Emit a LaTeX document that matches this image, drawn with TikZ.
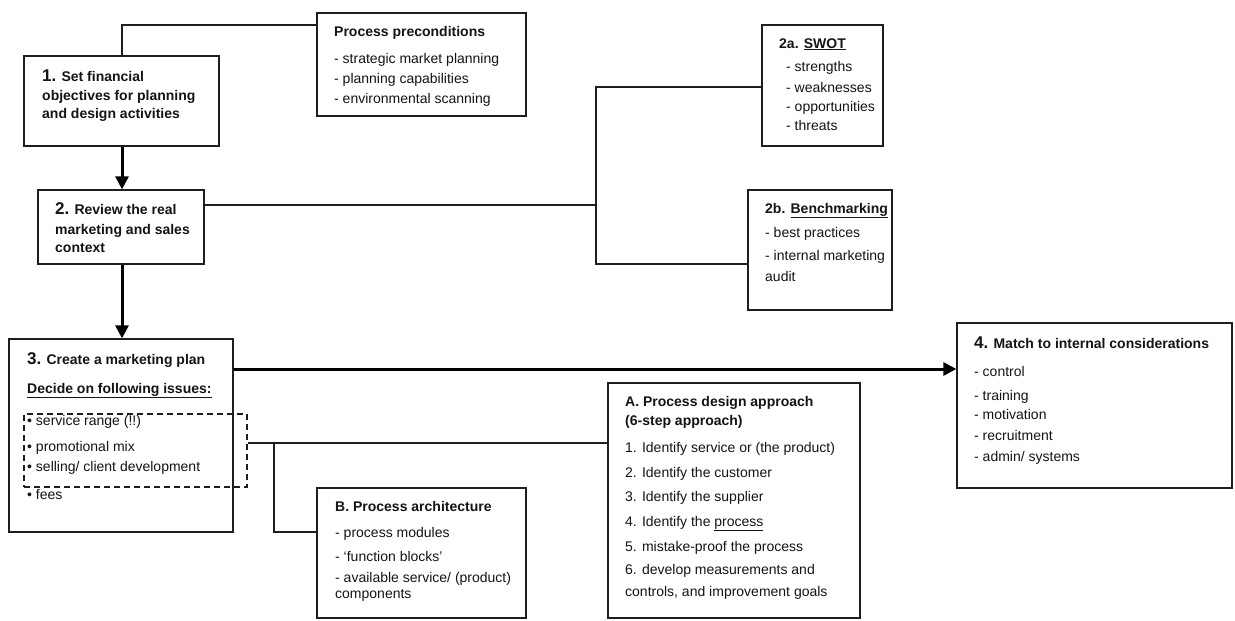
\documentclass[tikz,border=0pt]{standalone}
\usepackage{fontspec}
\setmainfont{Liberation Sans}
\usetikzlibrary{arrows.meta,fit}

\tikzset{
  box/.style={draw=black!88, line width=1.3pt, inner sep=0pt, fill=none},
  dashbox/.style={draw=black!88, line width=1.2pt, dash pattern=on 6pt off 4pt, inner sep=0pt},
  conn/.style={draw=black!88, line width=1.3pt},
  flow/.style={draw=black, line width=3pt, -{Triangle[length=13pt,width=13pt]}},
  txt/.style={anchor=base west, inner sep=0pt, text=black!92, font=\fontsize{14}{16}\selectfont},
  ttl/.style={txt, font=\fontsize{14}{16}\selectfont\bfseries},
}
\newcommand{\bignum}[1]{{\fontsize{17}{18}\selectfont #1}}

\begin{document}
\begin{tikzpicture}[x=1pt,y=-1pt]
  \useasboundingbox[fill=white] (0,0) rectangle (1235,621);

  % ---- boxes ----
  \node[box, fit={(24,56) (219,146)}]   (b1)    {};
  \node[box, fit={(317,13) (526,116)}]  (pre)   {};
  \node[box, fit={(38,190) (204,264)}]  (b2)    {};
  \node[box, fit={(762,25) (883,146)}]  (swot)  {};
  \node[box, fit={(748,190) (892,310)}] (bench) {};
  \node[box, fit={(9,339) (233,532)}]   (b3)    {};
  \node[dashbox, fit={(24,414) (247,487)}] (issues) {};
  \node[box, fit={(957,323) (1232,488)}] (b4)   {};
  \node[box, fit={(608,383) (860,618)}] (pa)    {};
  \node[box, fit={(317,488) (526,618)}] (pb)    {};

  % ---- junction points ----
  \coordinate (c1) at (122,25);
  \coordinate (j)  at (596,205);
  \coordinate (jt) at (596,87);
  \coordinate (jb) at (596,264);
  \coordinate (ya) at (0,369);
  \coordinate (k)  at (274,443);
  \coordinate (kb) at (274,532);

  % ---- connectors ----
  \draw[conn] (b1.north -| c1) -- (c1) -- (c1 -| pre.west);
  \draw[flow] (b1.south -| c1) -- (b2.north -| c1);
  \draw[flow] (b2.south -| c1) -- (b3.north -| c1);
  \draw[conn] (b2.east |- j) -- (j);
  \draw[conn] (swot.west |- jt) -- (jt) -- (jb) -- (bench.west |- jb);
  \draw[flow] (b3.east |- ya) -- (b4.west |- ya);
  \draw[conn] (issues.east |- k) -- (pa.west |- k);
  \draw[conn] (k) -- (kb) -- (pb.west |- kb);

  % ---- box 1 ----
  \node[ttl] (t1a) at (42,81)  {\bignum{1.} Set financial};
  \node[ttl] (t1b) at (42,100) {objectives for planning};
  \node[ttl] (t1c) at (42,118) {and design activities};

  % ---- preconditions ----
  \node[ttl] (tpa) at (334,36)  {Process preconditions};
  \node[txt] (tpb) at (334,63)  {- strategic market planning};
  \node[txt] (tpc) at (334,83)  {- planning capabilities};
  \node[txt] (tpd) at (334,103) {- environmental scanning};

  % ---- box 2 ----
  \node[ttl] (t2a) at (55,214) {\bignum{2.} Review the real};
  \node[ttl] (t2b) at (55,234) {marketing and sales};
  \node[ttl] (t2c) at (55,252) {context};

  % ---- SWOT ----
  \node[ttl] (tsa) at (779,48)  {2a. \underline{SWOT}};
  \node[txt] (tsb) at (786,71)  {- strengths};
  \node[txt] (tsc) at (786,92)  {- weaknesses};
  \node[txt] (tsd) at (786,111) {- opportunities};
  \node[txt] (tse) at (786,130) {- threats};

  % ---- benchmarking ----
  \node[ttl] (tba) at (765,213) {2b. \underline{Benchmarking}};
  \node[txt] (tbb) at (765,237) {- best practices};
  \node[txt] (tbc) at (765,260) {- internal marketing};
  \node[txt] (tbd) at (765,281) {audit};

  % ---- box 3 ----
  \node[ttl] (t3a) at (27,364) {\bignum{3.} Create a marketing plan};
  \node[ttl] (t3b) at (27,393) {\underline{Decide on following issues:}};
  \node[txt] (t3c) at (27,425) {• service range (!!)};
  \node[txt] (t3d) at (27,451) {• promotional mix};
  \node[txt] (t3e) at (27,471) {• selling/ client development};
  \node[txt] (t3f) at (27,499) {• fees};

  % ---- box 4 ----
  \node[ttl] (t4a) at (974,348) {\bignum{4.} Match to internal considerations};
  \node[txt] (t4b) at (974,376) {- control};
  \node[txt] (t4c) at (974,400) {- training};
  \node[txt] (t4d) at (974,419) {- motivation};
  \node[txt] (t4e) at (974,440) {- recruitment};
  \node[txt] (t4f) at (974,461) {- admin/ systems};

  % ---- A. process design approach ----
  \node[ttl] (taa) at (625,406) {A. Process design approach};
  \node[ttl] (tab) at (625,425) {(6-step approach)};
  \node[txt] (tac) at (625,452) {1. Identify service or (the product)};
  \node[txt] (tad) at (625,477) {2. Identify the customer};
  \node[txt] (tae) at (625,501) {3. Identify the supplier};
  \node[txt] (taf) at (625,526) {4. Identify the \underline{process}};
  \node[txt] (tag) at (625,551) {5. mistake-proof the process};
  \node[txt] (tah) at (625,574) {6. develop measurements and};
  \node[txt] (tai) at (625,596) {controls, and improvement goals};

  % ---- B. process architecture ----
  \node[ttl] (tpba) at (335,511) {B. Process architecture};
  \node[txt] (tpbb) at (335,537) {- process modules};
  \node[txt] (tpbc) at (335,561) {- ‘function blocks’};
  \node[txt] (tpbd) at (335,582) {- available service/ (product)};
  \node[txt] (tpbe) at (335,598) {components};
\end{tikzpicture}
\end{document}
